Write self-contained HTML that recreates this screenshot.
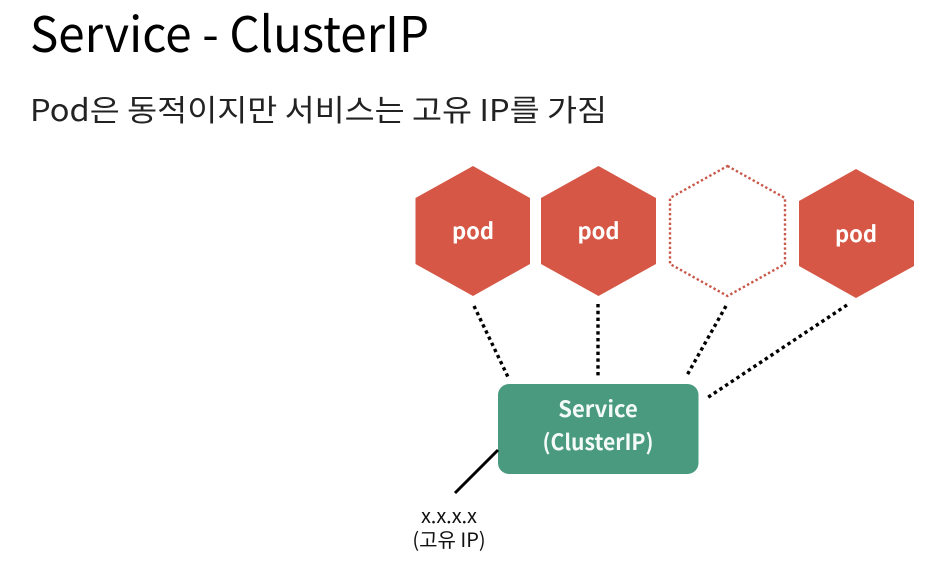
<!DOCTYPE html>
<html>
<head>
<meta charset="utf-8">
<style>
html,body{margin:0;padding:0;background:#fff;width:938px;height:572px;overflow:hidden}
svg{display:block}
text{font-family:"Noto Sans CJK KR","Liberation Sans",sans-serif}
</style>
</head>
<body>
<svg width="938" height="572" viewBox="0 0 938 572" xmlns="http://www.w3.org/2000/svg">
<rect width="938" height="572" fill="#fff"/>
<text x="30" y="52" font-size="49" fill="#000" textLength="399" lengthAdjust="spacingAndGlyphs">Service - ClusterIP</text>
<text x="30" y="121" font-size="30" fill="#222" textLength="577" lengthAdjust="spacingAndGlyphs">Pod은 동적이지만 서비스는 고유 IP를 가짐</text>

<polygon points="473,166 530,198 530,264 473,296 415.500,264 415.500,198" fill="#d65745"/>
<polygon points="598.500,166 656,198 656,264 598.500,296 541,264 541,198" fill="#d65745"/>
<polygon points="856,169 914,201 914,266 856,298 799,266 799,201" fill="#d65745"/>
<polygon points="727.500,166 785,198 785,264 727.500,296 670,264 670,198" fill="#fff" stroke="#c9584a" stroke-width="2.400" stroke-dasharray="2.400 2.400"/>

<g font-size="22" font-weight="bold" fill="#fff" text-anchor="middle">
<text x="473" y="239">pod</text>
<text x="598.500" y="239">pod</text>
<text x="856" y="242">pod</text>
</g>

<g stroke="#000" stroke-width="3.400" stroke-dasharray="3.400 3.400" fill="none">
<line x1="474" y1="306" x2="508" y2="377"/>
<line x1="598" y1="304" x2="598" y2="378"/>
<line x1="726" y1="306" x2="686" y2="377"/>
<line x1="847" y1="305" x2="707" y2="398"/>
</g>

<rect x="498" y="384" width="200.500" height="90" rx="11" ry="11" fill="#4a9a80"/>
<g font-size="22" font-weight="bold" fill="#f4faf7" text-anchor="middle">
<text x="598" y="417">Service</text>
<text x="598" y="450" textLength="111" lengthAdjust="spacingAndGlyphs">(ClusterIP)</text>
</g>

<line x1="498" y1="450" x2="455" y2="493" stroke="#000" stroke-width="3"/>

<g font-size="20" fill="#111" text-anchor="middle">
<text x="449" y="523">x.x.x.x</text>
<text x="449" y="547">(고유 IP)</text>
</g>
</svg>
</body>
</html>
